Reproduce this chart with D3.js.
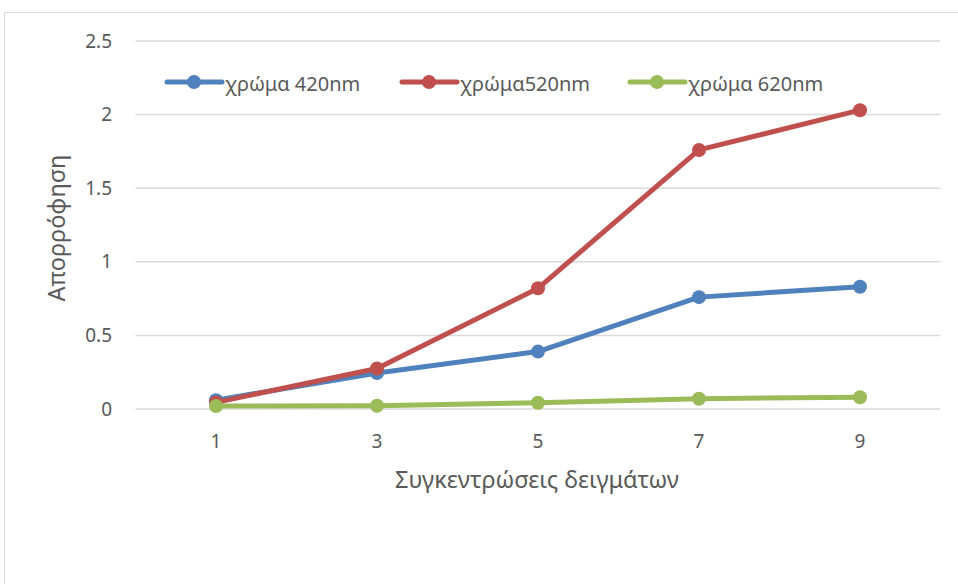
<!DOCTYPE html>
<html>
<head>
<meta charset="utf-8">
<script src="https://cdn.jsdelivr.net/npm/d3@7"></script>
<style>
  html, body { margin: 0; padding: 0; background: #fff; }
  svg { display: block; }
  text { font-family: "Noto Sans", "Open Sans", sans-serif; fill: #595959; }
</style>
</head>
<body>
<svg id="chart" width="958" height="584"></svg>
<script>
// Concentrations on the x axis
const categories = ["1", "3", "5", "7", "9"];
// Absorbance per wavelength
const series420 = [0.06, 0.245, 0.39, 0.76, 0.83];
const series520 = [0.045, 0.275, 0.82, 1.76, 2.03];
const series620 = [0.02, 0.022, 0.042, 0.07, 0.08];
const seriesNames = ["χρώμα 420nm", "χρώμα520nm", "χρώμα 620nm"];
const seriesColors = ["#4F81BD", "#C0504D", "#9BBB59"];
const yTicks = [0, 0.5, 1, 1.5, 2, 2.5];

const series = [series420, series520, series620].map((vals, i) => ({
  name: seriesNames[i], color: seriesColors[i], values: vals
}));

const svg = d3.select("#chart");
const plot = { left: 135.5, right: 940.5, top: 41, bottom: 409 };

// Outer chart frame
svg.append("rect")
  .attr("x", 4.5).attr("y", 12.5)
  .attr("width", 1000).attr("height", 700)
  .attr("fill", "none").attr("stroke", "#D9D9D9").attr("stroke-width", 1);

const x = d3.scaleBand().domain(categories).range([plot.left, plot.right]);
const y = d3.scaleLinear().domain([0, 2.5]).range([plot.bottom, plot.top]);

// Horizontal gridlines
svg.append("g").selectAll("line").data(yTicks).join("line")
  .attr("x1", plot.left).attr("x2", plot.right)
  .attr("y1", d => y(d)).attr("y2", d => y(d))
  .attr("stroke", "#D9D9D9").attr("stroke-width", 1.5);

// Y axis labels
const yAxis = d3.axisLeft(y).tickValues(yTicks).tickSize(0).tickPadding(0)
  .tickFormat(d => String(d));
svg.append("g").attr("transform", "translate(112,0)").call(yAxis)
  .call(g => g.select(".domain").remove())
  .selectAll("text")
  .attr("font-size", 19).attr("fill", "#595959")
  .style("font-family", "\"Noto Sans\", sans-serif");

// X axis labels
const xAxis = d3.axisBottom(x).tickSize(0).tickPadding(0);
svg.append("g").attr("transform", "translate(0,434)").call(xAxis)
  .call(g => g.select(".domain").remove())
  .selectAll("text")
  .attr("font-size", 19).attr("fill", "#595959")
  .style("font-family", "\"Noto Sans\", sans-serif");

// Axis titles
svg.append("text")
  .attr("x", 537).attr("y", 488)
  .attr("text-anchor", "middle").attr("font-size", 23.5)
  .text("Συγκεντρώσεις δειγμάτων");
svg.append("text")
  .attr("transform", "translate(65,228) rotate(-90)")
  .attr("text-anchor", "middle").attr("font-size", 23.5)
  .text("Απορρόφηση");

// Series lines and markers
const line = d3.line()
  .x((d, i) => x(categories[i]) + x.bandwidth() / 2)
  .y(d => y(d));

const sg = svg.append("g").selectAll("g").data(series).join("g");
sg.append("path")
  .attr("d", d => line(d.values))
  .attr("fill", "none").attr("stroke", d => d.color)
  .attr("stroke-width", 5).attr("stroke-linejoin", "round").attr("stroke-linecap", "round");
sg.each(function(s) {
  d3.select(this).selectAll("circle").data(s.values).join("circle")
    .attr("cx", (d, i) => x(categories[i]) + x.bandwidth() / 2)
    .attr("cy", d => y(d))
    .attr("r", 7)
    .attr("fill", s.color);
});

// Legend
const legendX = [167, 402, 630];
const lg = svg.append("g").selectAll("g").data(series).join("g")
  .attr("transform", (d, i) => `translate(${legendX[i]},82)`);
lg.append("line").attr("x1", 0).attr("x2", 55).attr("y1", 0).attr("y2", 0)
  .attr("stroke", d => d.color).attr("stroke-width", 5).attr("stroke-linecap", "round");
lg.append("circle").attr("cx", 27).attr("cy", 0).attr("r", 7).attr("fill", d => d.color);
lg.append("text").attr("x", 58).attr("y", 9).attr("font-size", 20).text(d => d.name);
</script>
</body>
</html>
